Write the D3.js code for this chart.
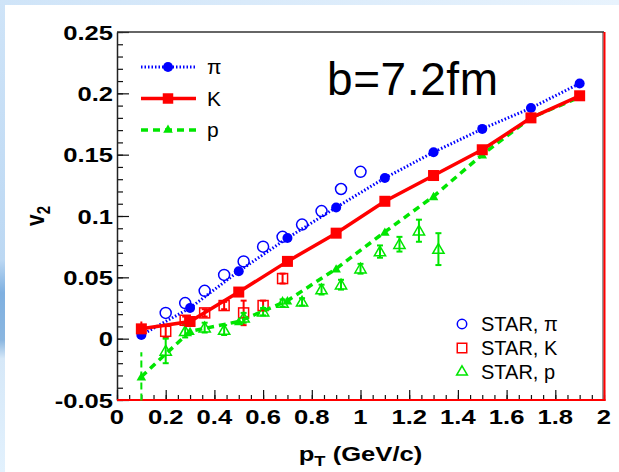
<!DOCTYPE html>
<html>
<head>
<meta charset="utf-8">
<script src="https://cdn.jsdelivr.net/npm/d3@7"></script>
<style>
  html, body { margin: 0; padding: 0; background: #fff; }
  svg { display: block; }
  text { font-family: "Liberation Sans", Arial, sans-serif; }
</style>
</head>
<body>
<svg id="chart" width="619" height="472"></svg>
<script>
// model points (filled markers + lines)
const modelPt = [0.1, 0.3, 0.5, 0.7, 0.9, 1.1, 1.3, 1.5, 1.7, 1.9];
const modelPi = [0.003, 0.025, 0.055, 0.082, 0.107, 0.131, 0.152, 0.171, 0.188, 0.208];
const modelK = [0.008, 0.014, 0.038, 0.063, 0.086, 0.112, 0.133, 0.154, 0.180, 0.198];
const modelKErr = [0.006, 0.002, 0.002, 0.002, 0.002, 0.002, 0.002, 0.002, 0.002, 0.003];
const modelP = [-0.031, 0.006, 0.014, 0.031, 0.057, 0.087, 0.116, 0.150, 0.180, 0.197];
const modelPErr = [0.02, 0.002, 0.002, 0.002, 0.002, 0.002, 0.002, 0.002, 0.002, 0.002];

// STAR data (open markers)
const starPiPt = [0.2, 0.28, 0.36, 0.44, 0.52, 0.6, 0.68, 0.76, 0.84, 0.92, 1.0];
const starPi = [0.021, 0.029, 0.039, 0.052, 0.063, 0.075, 0.083, 0.093, 0.104, 0.122, 0.136];
const starKPt = [0.2, 0.28, 0.36, 0.44, 0.52, 0.6, 0.68];
const starK = [0.006, 0.015, 0.021, 0.027, 0.021, 0.027, 0.049];
const starKErr = [0.005, 0.003, 0.003, 0.003, 0.01, 0.004, 0.004];
const starPPt = [0.2, 0.28, 0.36, 0.44, 0.52, 0.6, 0.68, 0.76, 0.84, 0.92, 1.0, 1.08, 1.16, 1.24, 1.32];
const starP = [-0.01, 0.006, 0.009, 0.007, 0.017, 0.022, 0.029, 0.03, 0.04, 0.044, 0.057, 0.071, 0.077, 0.088, 0.073];
const starPErr = [0.01, 0.005, 0.004, 0.004, 0.004, 0.003, 0.003, 0.003, 0.004, 0.004, 0.004, 0.005, 0.006, 0.009, 0.013];

const xTicks = [0, 0.2, 0.4, 0.6, 0.8, 1, 1.2, 1.4, 1.6, 1.8, 2];
const yTicks = [-0.05, 0, 0.05, 0.1, 0.15, 0.2, 0.25];

const blue = '#0000ff', red = '#ff0000', green = '#00e600';
const stretch = 1.22;

const svg = d3.select('#chart');

// slide background strips
const defs = svg.append('defs');
const lg = defs.append('linearGradient').attr('id', 'leftStrip').attr('x1', 0).attr('y1', 0).attr('x2', 0).attr('y2', 1);
[[0, '#cfe4f8'], [0.55, '#bcd8f3'], [0.62, '#7fb0e0'], [0.72, '#8ab6e0'], [0.76, '#d6e8f8'], [1, '#e2f1fd']]
  .forEach(s => lg.append('stop').attr('offset', s[0]).attr('stop-color', s[1]));
const tg = defs.append('linearGradient').attr('id', 'topStrip');
[[0, '#cfe4f8'], [1, '#e8f3fd']].forEach(s => tg.append('stop').attr('offset', s[0]).attr('stop-color', s[1]));

svg.append('rect').attr('width', 619).attr('height', 5).attr('fill', 'url(#topStrip)');
svg.append('rect').attr('width', 5).attr('height', 472).attr('fill', 'url(#leftStrip)');

const x = d3.scaleLinear().domain([0, 2]).range([117, 604]);
const y = d3.scaleLinear().domain([-0.05, 0.25]).range([400, 32]);

// minor ticks
svg.append('g').attr('transform', `translate(${x(0)},0)`)
  .call(d3.axisLeft(y).tickValues(d3.range(-50, 251, 10).map(v => v / 1000)).tickSizeInner(-6).tickSizeOuter(0).tickFormat(''))
  .call(g => g.select('.domain').remove());
svg.append('g').attr('transform', `translate(0,${y(-0.05)})`)
  .call(d3.axisBottom(x).tickValues(d3.range(0, 41).map(v => v * 0.05)).tickSizeInner(-5).tickSizeOuter(0).tickFormat(''))
  .call(g => g.select('.domain').remove());

// major ticks
svg.append('g').attr('transform', `translate(${x(0)},0)`)
  .call(d3.axisLeft(y).tickValues(yTicks).tickSizeInner(-12).tickSizeOuter(0).tickFormat(''))
  .call(g => g.select('.domain').attr('stroke', '#222').attr('stroke-width', 1.5));
svg.append('g').attr('transform', `translate(0,${y(-0.05)})`)
  .call(d3.axisBottom(x).tickValues(xTicks).tickSizeInner(-10).tickSizeOuter(0).tickFormat(''))
  .call(g => g.select('.domain').remove());
svg.selectAll('.tick line').attr('stroke', '#111').attr('stroke-width', 1.2);

// frame
svg.append('line').attr('x1', x(0)).attr('x2', x(2)).attr('y1', y(0.25)).attr('y2', y(0.25))
  .attr('stroke', '#333').attr('stroke-width', 1.5);
svg.append('line').attr('x1', x(2) - 1).attr('x2', x(2) - 1).attr('y1', y(0.25)).attr('y2', y(-0.05))
  .attr('stroke', '#333').attr('stroke-width', 1);
svg.append('line').attr('x1', x(2) + 0.5).attr('x2', x(2) + 0.5).attr('y1', y(0.25)).attr('y2', y(-0.05) + 1)
  .attr('stroke', red).attr('stroke-width', 2);
svg.append('line').attr('x1', x(0)).attr('x2', x(2) + 1.5).attr('y1', y(-0.05)).attr('y2', y(-0.05))
  .attr('stroke', red).attr('stroke-width', 2);

// tick labels (bold, horizontally stretched like the original)
const fmt = d => String(+d.toFixed(2));
svg.append('g').selectAll('text').data(yTicks).join('text')
  .attr('transform', d => `translate(${x(0) - 4},${y(d) + 7.5}) scale(${stretch},1)`)
  .attr('text-anchor', 'end').attr('font-size', 21).attr('font-weight', 'bold')
  .text(fmt);
svg.append('g').selectAll('text').data(xTicks).join('text')
  .attr('transform', d => `translate(${x(d)},${y(-0.05) + 24}) scale(${stretch},1)`)
  .attr('text-anchor', 'middle').attr('font-size', 21).attr('font-weight', 'bold')
  .text(fmt);

// axis titles
const xt = svg.append('text')
  .attr('transform', `translate(${x(1)},${y(-0.05) + 61}) scale(${stretch},1)`)
  .attr('text-anchor', 'middle').attr('font-size', 21).attr('font-weight', 'bold');
xt.append('tspan').text('p');
xt.append('tspan').attr('font-size', 15).attr('dy', 5).text('T');
xt.append('tspan').attr('dy', -5).text(' (GeV/c)');

const yt = svg.append('text')
  .attr('transform', `translate(44,${y(0.1)}) rotate(-90) scale(1,${stretch})`)
  .attr('text-anchor', 'middle').attr('font-size', 21).attr('font-weight', 'bold');
yt.append('tspan').text('v');
yt.append('tspan').attr('font-size', 15).attr('dy', 5).text('2');

// helpers
const sym = (type, size) => d3.symbol().type(type).size(size)();
function errorBars(g, xs, vs, es, color, cap, dash) {
  g.append('g').selectAll('g').data(xs.map((d, i) => ({ x: d, v: vs[i], e: es[i] }))).join('g')
    .each(function(d) {
      const s = d3.select(this);
      const lo = Math.max(d.v - d.e, -0.0505);
      s.append('line').attr('x1', x(d.x)).attr('x2', x(d.x)).attr('y1', y(lo)).attr('y2', y(d.v + d.e))
        .attr('stroke', color).attr('stroke-width', 2).attr('stroke-dasharray', dash || null);
      if (cap) {
        [lo, d.v + d.e].forEach(v => {
          if (v > -0.05) s.append('line').attr('x1', x(d.x) - cap).attr('x2', x(d.x) + cap)
            .attr('y1', y(v)).attr('y2', y(v)).attr('stroke', color).attr('stroke-width', 2);
        });
      }
    });
}

const plot = svg.append('g');

// STAR open markers
errorBars(plot, starKPt, starK, starKErr, red, 3);
errorBars(plot, starPPt, starP, starPErr, green, 3);

plot.append('g').selectAll('circle').data(starPiPt).join('circle')
  .attr('cx', d => x(d)).attr('cy', (d, i) => y(starPi[i])).attr('r', 5.5)
  .attr('fill', 'none').attr('stroke', blue).attr('stroke-width', 1.5);
plot.append('g').selectAll('rect').data(starKPt).join('rect')
  .attr('x', d => x(d) - 5).attr('y', (d, i) => y(starK[i]) - 5).attr('width', 10).attr('height', 10)
  .attr('fill', 'none').attr('stroke', red).attr('stroke-width', 1.5);
plot.append('g').selectAll('path').data(starPPt).join('path')
  .attr('transform', (d, i) => `translate(${x(d)},${y(starP[i]) + 1})`)
  .attr('d', sym(d3.symbolTriangle, 55))
  .attr('fill', 'none').attr('stroke', green).attr('stroke-width', 1.5);

// model lines
const line = d3.line().x(d => x(d[0])).y(d => y(d[1]));
errorBars(plot, modelPt, modelP, modelPErr, green, 0, '7,4');
errorBars(plot, modelPt, modelK, modelKErr, red, 0);

plot.append('path').datum(modelPt.map((d, i) => [d, modelP[i]])).attr('d', line)
  .attr('fill', 'none').attr('stroke', green).attr('stroke-width', 3.5).attr('stroke-dasharray', '7,5');
plot.append('path').datum(modelPt.map((d, i) => [d, modelPi[i]])).attr('d', line)
  .attr('fill', 'none').attr('stroke', blue).attr('stroke-width', 3).attr('stroke-dasharray', '1.5,2');
plot.append('path').datum(modelPt.map((d, i) => [d, modelK[i]])).attr('d', line)
  .attr('fill', 'none').attr('stroke', red).attr('stroke-width', 3.5);

plot.append('g').selectAll('path').data(modelPt).join('path')
  .attr('transform', (d, i) => `translate(${x(d)},${y(modelP[i]) + 1})`)
  .attr('d', sym(d3.symbolTriangle, 40)).attr('fill', green);
plot.append('g').selectAll('circle').data(modelPt).join('circle')
  .attr('cx', d => x(d)).attr('cy', (d, i) => y(modelPi[i])).attr('r', 5).attr('fill', blue);
plot.append('g').selectAll('rect').data(modelPt).join('rect')
  .attr('x', d => x(d) - 5.5).attr('y', (d, i) => y(modelK[i]) - 5.5).attr('width', 11).attr('height', 11)
  .attr('fill', red);

// legend: model
const legModel = [
  { name: 'π', color: blue, dash: '1.5,2', w: 3, mark: 'circle' },
  { name: 'K', color: red, dash: null, w: 3.5, mark: 'square' },
  { name: 'p', color: green, dash: '7,5', w: 3.5, mark: 'triangle' }
];
const lm = svg.append('g').selectAll('g').data(legModel).join('g')
  .attr('transform', (d, i) => `translate(141,${67 + i * 31.5})`);
lm.append('line').attr('x1', 0).attr('x2', 55).attr('stroke', d => d.color)
  .attr('stroke-width', d => d.w).attr('stroke-dasharray', d => d.dash);
lm.append('path').attr('transform', 'translate(27,0)')
  .attr('d', d => d.mark === 'circle' ? sym(d3.symbolCircle, 80) : d.mark === 'square' ? sym(d3.symbolSquare, 110) : sym(d3.symbolTriangle, 40))
  .attr('fill', d => d.color);
lm.append('text').attr('x', 66).attr('y', 7).attr('font-size', 21).text(d => d.name);

// big label
svg.append('text').attr('x', 327).attr('y', 95).attr('font-size', 46).attr('textLength', 171).text('b=7.2fm');

// legend: STAR
const legStar = [
  { name: 'STAR, π', color: blue, mark: 'circle' },
  { name: 'STAR, K', color: red, mark: 'square' },
  { name: 'STAR, p', color: green, mark: 'triangle' }
];
const ls = svg.append('g').selectAll('g').data(legStar).join('g')
  .attr('transform', (d, i) => `translate(462,${324 + i * 24})`);
ls.append('path')
  .attr('d', d => d.mark === 'circle' ? sym(d3.symbolCircle, 70) : d.mark === 'square' ? sym(d3.symbolSquare, 90) : sym(d3.symbolTriangle, 50))
  .attr('fill', 'none').attr('stroke', d => d.color).attr('stroke-width', 1.5);
ls.append('text').attr('x', 19).attr('y', 7).attr('font-size', 20).text(d => d.name);
</script>
</body>
</html>
